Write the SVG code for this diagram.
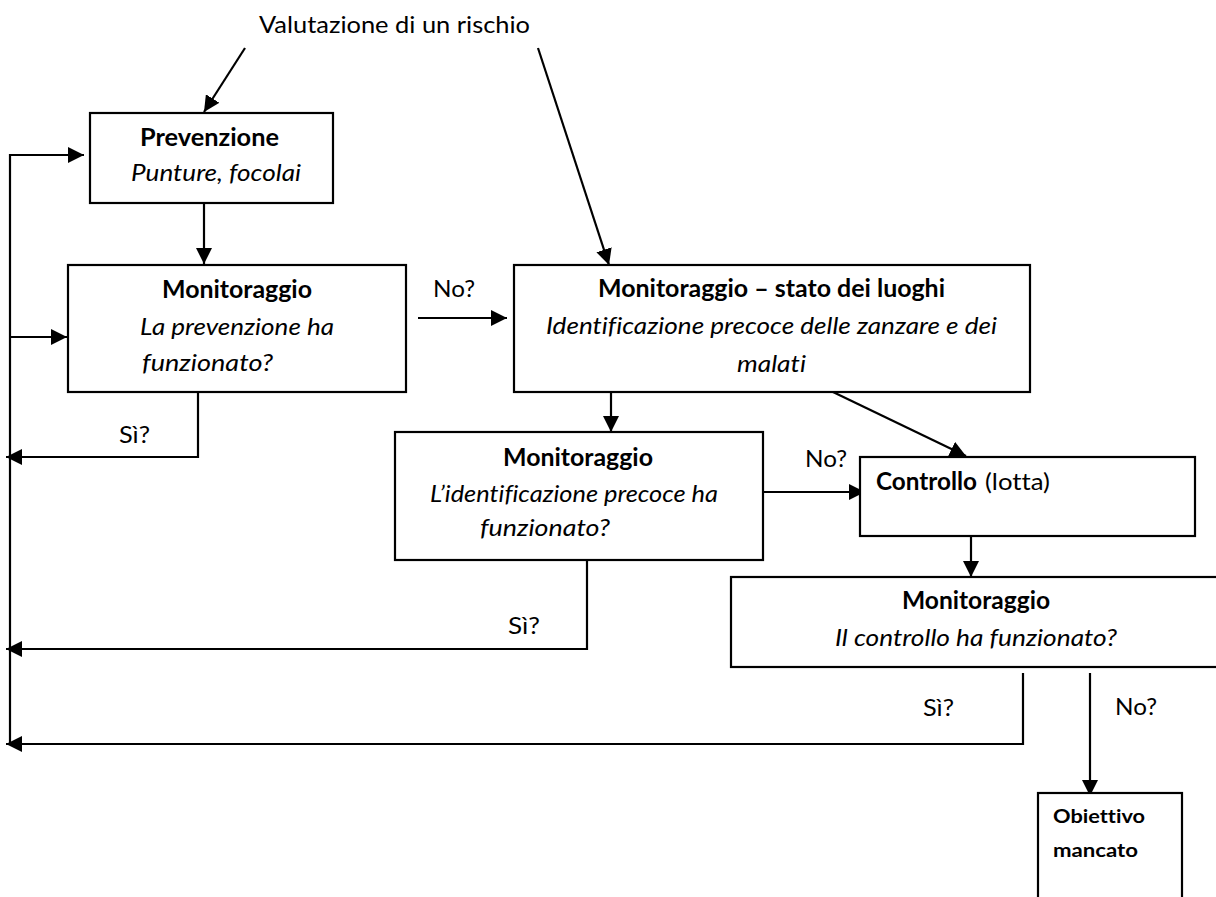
<svg xmlns="http://www.w3.org/2000/svg" width="1216" height="897" viewBox="0 0 1216 897">
<style>
text{font-family:Lato,"Liberation Sans",sans-serif;font-size:24px;fill:#000;font-variant-ligatures:none;font-feature-settings:"liga" 0}
.b{font-weight:bold}
.i{font-style:italic}
.box{fill:#fff;stroke:#000;stroke-width:2.2}
.c{fill:none;stroke:#000;stroke-width:2.2}
</style>
<defs>
<marker id="ah" markerUnits="userSpaceOnUse" markerWidth="16" markerHeight="16" refX="16" refY="8" orient="auto" viewBox="0 0 16 16">
<path d="M0,0 L16,8 L0,16 z" fill="#000"/>
</marker>
</defs>
<rect width="1216" height="897" fill="#fff"/>
<g id="connectors">
<path class="c" d="M245,48 L204,112" marker-end="url(#ah)"/>
<path class="c" d="M538,48 L609,265" marker-end="url(#ah)"/>
<path class="c" d="M10,745 L10,155 L84,155" marker-end="url(#ah)"/>
<path class="c" d="M10,337 L67,337" marker-end="url(#ah)"/>
<path class="c" d="M204,203 L204,264" marker-end="url(#ah)"/>
<path class="c" d="M198,392 L198,457 L6,457" marker-end="url(#ah)"/>
<path class="c" d="M418,318 L507,318" marker-end="url(#ah)"/>
<path class="c" d="M611,392 L611,432" marker-end="url(#ah)"/>
<path class="c" d="M833,392 L966,456" marker-end="url(#ah)"/>
<path class="c" d="M763,492 L865,492" marker-end="url(#ah)"/>
<path class="c" d="M971,536 L971,577" marker-end="url(#ah)"/>
<path class="c" d="M587,560 L587,649 L6,649" marker-end="url(#ah)"/>
<path class="c" d="M1023,673 L1023,744 L6,744" marker-end="url(#ah)"/>
<path class="c" d="M1090,673 L1090,796" marker-end="url(#ah)"/>
</g>
<g id="labels">
<text x="259" y="33" textLength="271" lengthAdjust="spacingAndGlyphs">Valutazione di un rischio</text>
<text x="433" y="297" textLength="42" lengthAdjust="spacingAndGlyphs">No?</text>
<text x="119" y="443" textLength="31" lengthAdjust="spacingAndGlyphs">Sì?</text>
<text x="805" y="467" textLength="42" lengthAdjust="spacingAndGlyphs">No?</text>
<text x="508" y="634" textLength="32" lengthAdjust="spacingAndGlyphs">Sì?</text>
<text x="923" y="716" textLength="31" lengthAdjust="spacingAndGlyphs">Sì?</text>
<text x="1115" y="715" textLength="42" lengthAdjust="spacingAndGlyphs">No?</text>
</g>
<g id="prevenzione">
<rect class="box" x="90" y="113" width="243" height="90"/>
<text class="b" x="140" y="146" textLength="139" lengthAdjust="spacingAndGlyphs">Prevenzione</text>
<text class="i" x="131" y="181" textLength="170" lengthAdjust="spacingAndGlyphs">Punture, focolai</text>
</g>
<g id="monitoraggio1">
<rect class="box" x="68" y="265" width="338" height="127"/>
<text class="b" x="162" y="298" textLength="150" lengthAdjust="spacingAndGlyphs">Monitoraggio</text>
<text class="i" x="140" y="335" textLength="194" lengthAdjust="spacingAndGlyphs">La prevenzione ha</text>
<text class="i" x="142" y="371" textLength="131" lengthAdjust="spacingAndGlyphs">funzionato?</text>
</g>
<g id="monitoraggio-stato">
<rect class="box" x="514" y="265" width="516" height="127"/>
<text class="b" x="598" y="297" textLength="347" lengthAdjust="spacingAndGlyphs">Monitoraggio – stato dei luoghi</text>
<text class="i" x="546" y="334" textLength="451" lengthAdjust="spacingAndGlyphs">Identificazione precoce delle zanzare e dei</text>
<text class="i" x="737" y="372" textLength="69" lengthAdjust="spacingAndGlyphs">malati</text>
</g>
<g id="monitoraggio2">
<rect class="box" x="395" y="432" width="368" height="128"/>
<text class="b" x="503" y="466" textLength="150" lengthAdjust="spacingAndGlyphs">Monitoraggio</text>
<text class="i" x="430" y="502" textLength="288" lengthAdjust="spacingAndGlyphs">L’identificazione precoce ha</text>
<text class="i" x="480" y="536" textLength="130" lengthAdjust="spacingAndGlyphs">funzionato?</text>
</g>
<g id="controllo">
<rect class="box" x="860" y="457" width="335" height="79"/>
<text y="490"><tspan class="b" x="876" textLength="101" lengthAdjust="spacingAndGlyphs">Controllo</tspan> <tspan x="985" textLength="65" lengthAdjust="spacingAndGlyphs">(lotta)</tspan></text>
</g>
<g id="monitoraggio3">
<rect class="box" x="731" y="577" width="500" height="90"/>
<text class="b" x="902" y="609" textLength="148" lengthAdjust="spacingAndGlyphs">Monitoraggio</text>
<text class="i" x="835" y="646" textLength="282" lengthAdjust="spacingAndGlyphs">Il controllo ha funzionato?</text>
</g>
<g id="obiettivo">
<rect class="box" x="1038" y="793" width="144" height="130"/>
<text class="b" x="1053" y="823" style="font-size:19px" textLength="92" lengthAdjust="spacingAndGlyphs">Obiettivo</text>
<text class="b" x="1053" y="857" style="font-size:19px" textLength="85" lengthAdjust="spacingAndGlyphs">mancato</text>
</g>
</svg>
